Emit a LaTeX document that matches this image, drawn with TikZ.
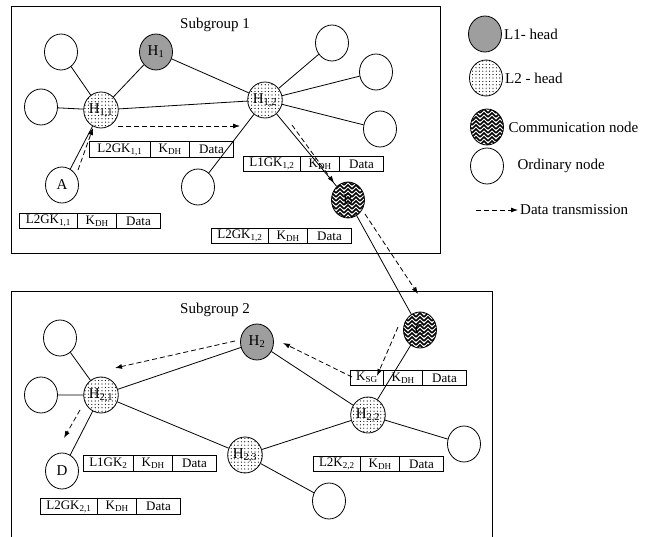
\documentclass[tikz,border=0pt]{standalone}
\usepackage{fontspec}
\setmainfont{Liberation Serif}
\usetikzlibrary{positioning}
\usetikzlibrary{arrows.meta}
\usetikzlibrary{shapes.geometric}
\usetikzlibrary{shapes.multipart}
\usetikzlibrary{patterns}

\pgfdeclarepatternformonly{herring}{\pgfqpoint{-1pt}{-1pt}}{\pgfqpoint{9pt}{9pt}}{\pgfqpoint{8pt}{8pt}}{%
  \pgfsetlinewidth{1.5pt}%
  \pgfpathmoveto{\pgfqpoint{0pt}{0pt}}\pgfpathlineto{\pgfqpoint{4pt}{4pt}}\pgfpathlineto{\pgfqpoint{8pt}{0pt}}%
  \pgfpathmoveto{\pgfqpoint{0pt}{4pt}}\pgfpathlineto{\pgfqpoint{4pt}{8pt}}\pgfpathlineto{\pgfqpoint{8pt}{4pt}}%
  \pgfusepath{stroke}}
\pgfdeclarepatternformonly{fdots}{\pgfqpoint{-1pt}{-1pt}}{\pgfqpoint{4pt}{4pt}}{\pgfqpoint{3.4pt}{3.4pt}}{%
  \pgfpathcircle{\pgfqpoint{0pt}{0pt}}{.6pt}%
  \pgfusepath{fill}}

\newcommand{\lsub}[1]{\textsubscript{#1}}
\newcommand{\pktfields}[2]{\makebox[#1]{#2}\nodepart{two}\makebox[36pt]{K\lsub{DH}}\nodepart{three}\makebox[41pt]{Data}}

\begin{document}
\begin{tikzpicture}[x=1pt, y=-1pt, >={Latex[length=7pt,width=5pt]},
                    every node/.style={font=\fontsize{15}{18}\selectfont},
                    nd/.style={ellipse, draw, line width=.8pt, minimum width=33pt, minimum height=36pt, inner sep=0pt},
                    ord/.style={nd, fill=white},
                    lone/.style={nd, fill=black!38},
                    ltwo/.style={nd, pattern=fdots},
                    comm/.style={nd, pattern=herring},
                    link/.style={line width=.8pt},
                    flow/.style={->, dash pattern=on 5pt off 3pt, line width=.8pt},
                    pkt/.style={rectangle split, rectangle split horizontal, rectangle split parts=3, draw, line width=.8pt,
                                inner xsep=1pt, inner ysep=1.5pt, text height=9pt, text depth=3.5pt,
                                font=\fontsize{13}{15}\selectfont, anchor=west},
                    grp/.style={draw, line width=1pt}]
    \useasboundingbox (0,0) rectangle (657,537);

    \draw[grp] (11,7) rectangle (440,254);
    \draw[grp] (11,292) rectangle (492,570);
    \node (sg1) at (215,25) {Subgroup 1};
    \node (sg2) at (215,310) {Subgroup 2};

    \node[ord]  (o1a) at (61,52)   {};
    \node[ord]  (o1b) at (41,107)  {};
    \node[ltwo] (h11) at (101,110) {H\lsub{1,1}};
    \node[lone] (h1)  at (156,52)  {H\lsub{1}};
    \node[ord]  (na)  at (62,185)  {A};
    \node[ord]  (o1f) at (198,187) {};
    \node[ltwo] (h12) at (265,100) {H\lsub{1,2}};
    \node[ord]  (o1c) at (332,43)  {};
    \node[ord]  (o1d) at (376,72)  {};
    \node[ord]  (o1e) at (380,129) {};
    \node[comm] (nb)  at (348,200) {B};

    \node[ord]  (o2a) at (60,338)  {};
    \node[ord]  (o2b) at (41,395)  {};
    \node[ltwo] (h21) at (101,395) {H\lsub{2,1}};
    \node[ord]  (nd)  at (62,471)  {D};
    \node[lone] (h2)  at (257,342) {H\lsub{2}};
    \node[ltwo] (h23) at (245,455) {H\lsub{2,3}};
    \node[ltwo] (h22) at (368,415) {H\lsub{2,2}};
    \node[comm] (nc)  at (420,330) {C};
    \node[ord]  (o2c) at (464,444) {};
    \node[ord]  (o2d) at (329,501) {};

    \draw[link] (h11) -- (o1a) (h11) -- (o1b) (h11) -- (h1) (h11) -- (na) (h11) -- (h12)
                (h1) -- (h12) (h12) -- (o1c) (h12) -- (o1d) (h12) -- (o1e) (h12) -- (o1f)
                (h12) -- (nb) (nb) -- (nc);
    \draw[link] (h21) -- (o2a) (h21) -- (o2b) (h21) -- (nd) (h21) -- (h2) (h21) -- (h23)
                (h2) -- (h22) (h22) -- (nc) (h22) -- (o2c) (h22) -- (h23) (h23) -- (o2d);

    \node[pkt] (tk11) at (89,149.5) {\pktfields{59pt}{L2GK\lsub{1,1}}};
    \node[pkt] (tk12) at (243,164)  {\pktfields{55pt}{L1GK\lsub{1,2}}};
    \node[pkt] (tka)  at (19,221)   {\pktfields{56pt}{L2GK\lsub{1,1}}};
    \node[pkt] (tkb)  at (211,236)  {\pktfields{55pt}{L2GK\lsub{1,2}}};
    \node[pkt] (tkc)  at (350,378)  {\pktfields{31pt}{K\lsub{SG}}};
    \node[pkt] (tk2)  at (83,463.5) {\pktfields{48pt}{L1GK\lsub{2}}};
    \node[pkt] (tkd)  at (40,506.5) {\pktfields{55pt}{L2GK\lsub{2,1}}};
    \node[pkt] (tk22) at (313,464)  {\pktfields{45pt}{L2K\lsub{2,2}}};

    \coordinate (f1s) at (78,170);  \coordinate (f1e) at (93,128);
    \coordinate (f2s) at (118,126); \coordinate (f2e) at (240,126);
    \coordinate (f3s) at (292,125); \coordinate (f3e) at (334,183);
    \coordinate (f4s) at (365,214); \coordinate (f4e) at (418,294);
    \coordinate (f5s) at (398,327); \coordinate (f5e) at (377,376);
    \coordinate (f6s) at (352,377); \coordinate (f6e) at (283,343);
    \coordinate (f7s) at (235,341); \coordinate (f7e) at (115,368);
    \coordinate (f8s) at (80,410);  \coordinate (f8e) at (64,438);
    \foreach \f in {1,...,8}
        \draw[flow] (f\f s) -- (f\f e);

    \node[lone] (k1) at (485,34)  {};
    \node[ltwo] (k2) at (486,78)  {};
    \node[comm] (k3) at (487,127) {};
    \node[ord]  (k4) at (487,166) {};
    \coordinate (k5s) at (476,210); \coordinate (k5e) at (518,210);
    \draw[flow] (k5s) -- (k5e);
    \node[right=1pt of k1, inner sep=1pt] (k1t) {L1- head};
    \node[right=1pt of k2, inner sep=1pt] (k2t) {L2 - head};
    \node[right=3.5pt of k3, inner sep=1pt] (k3t) {Communication node};
    \node[right=12.5pt of k4, inner sep=1pt] (k4t) {Ordinary node};
    \node[right=1pt of k5e, inner sep=1pt] (k5t) {Data transmission};
\end{tikzpicture}
\end{document}
